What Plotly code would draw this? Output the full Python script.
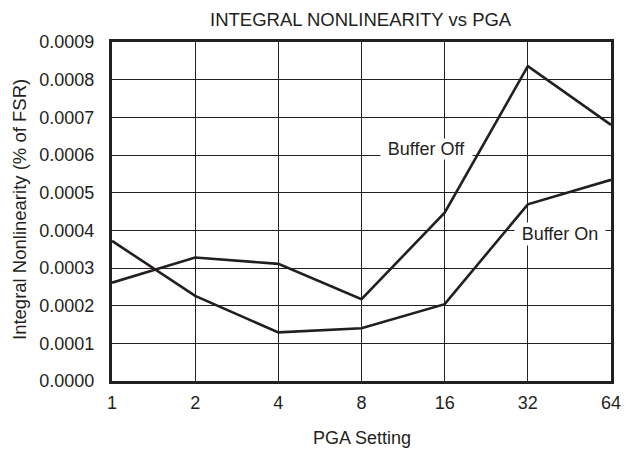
import plotly.graph_objects as go

pga = [1, 2, 4, 8, 16, 32, 64]
tick_labels = ["1", "2", "4", "8", "16", "32", "64"]
buffer_off = [0.000261, 0.000328, 0.000311, 0.000217, 0.000447, 0.000836, 0.000680]
buffer_on = [0.000372, 0.000226, 0.000129, 0.000140, 0.000204, 0.000469, 0.000534]
y_ticks = [i * 0.0001 for i in range(10)]
y_tick_labels = ["%.4f" % v for v in y_ticks]

ink = "#231f20"
font_family = "Liberation Sans, Arial, sans-serif"
fs = 18

# page body adds an 8px margin; work in window pixels and shift
off = 8
W, H = 629 - off, 451 - off
plot_l, plot_r, plot_t, plot_b = 112 - off, 611 - off, 42 - off, 381 - off
pw, ph = plot_r - plot_l, plot_b - plot_t


def px_x(px):
    return (px - off - plot_l) / pw


def px_y(py):
    return (plot_b - (py - off)) / ph


fig = go.Figure()
fig.add_trace(go.Scatter(x=pga, y=buffer_off, mode="lines", name="Buffer Off",
                         line=dict(color=ink, width=2.6)))
fig.add_trace(go.Scatter(x=pga, y=buffer_on, mode="lines", name="Buffer On",
                         line=dict(color=ink, width=2.6)))

fig.add_annotation(x=1.140, y=0.000616, xref="x", yref="y", text="Buffer Off",
                   showarrow=False, bgcolor="white", borderpad=0, width=91, height=20,
                   font=dict(size=fs, color=ink, family=font_family))
fig.add_annotation(x=1.623, y=0.000390, xref="x", yref="y", text="Buffer On",
                   showarrow=False, bgcolor="white", borderpad=0, width=90, height=22,
                   font=dict(size=fs, color=ink, family=font_family))

fig.add_annotation(x=px_x(362), y=px_y(438), xref="paper", yref="paper",
                   text="PGA Setting", showarrow=False, xanchor="center", yanchor="middle",
                   font=dict(size=fs, color=ink, family=font_family))
fig.add_annotation(x=px_x(19), y=px_y(210), xref="paper", yref="paper",
                   text="Integral Nonlinearity (% of FSR)", textangle=-90, showarrow=False,
                   xanchor="center", yanchor="middle",
                   font=dict(size=18.5, color=ink, family=font_family))
fig.add_annotation(x=px_x(360.5), y=px_y(19), xref="paper", yref="paper",
                   text="INTEGRAL NONLINEARITY vs PGA", showarrow=False,
                   xanchor="center", yanchor="middle",
                   font=dict(size=18.5, color=ink, family=font_family))

fig.update_layout(
    width=W, height=H,
    margin=dict(l=plot_l, r=W - plot_r, t=plot_t, b=H - plot_b),
    paper_bgcolor="white", plot_bgcolor="white",
    showlegend=False,
    font=dict(family=font_family, size=fs, color=ink),
)
fig.update_xaxes(
    type="log", range=[0, 1.80618],
    tickvals=pga, ticktext=tick_labels, tickfont=dict(size=fs),
    showgrid=True, gridcolor="#222", gridwidth=1.3,
    showline=True, linecolor=ink, linewidth=3, mirror=True,
    ticks="outside", ticklen=3, tickcolor="rgba(0,0,0,0)",
    zeroline=False, automargin=False,
)
fig.update_yaxes(
    range=[0, 0.0009],
    tickvals=y_ticks, ticktext=y_tick_labels, tickfont=dict(size=fs),
    showgrid=True, gridcolor="#222", gridwidth=1.3,
    showline=True, linecolor=ink, linewidth=3, mirror=True,
    ticks="outside", ticklen=11, tickcolor="rgba(0,0,0,0)",
    zeroline=False, automargin=False,
)

fig.write_html("out.html")
